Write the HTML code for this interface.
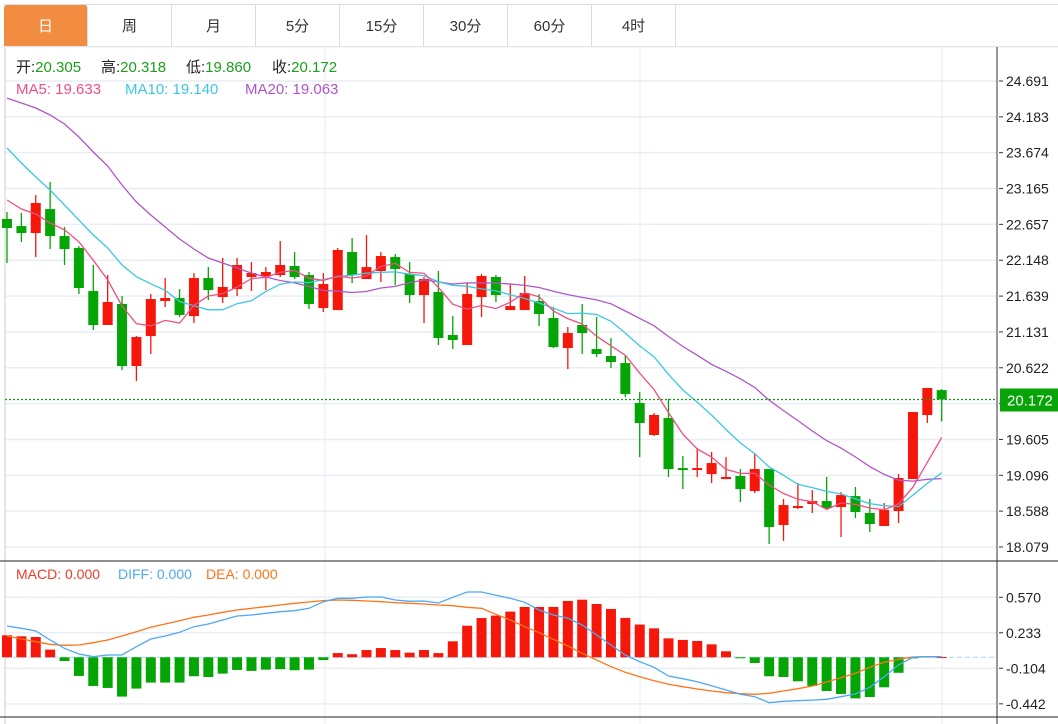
<!DOCTYPE html>
<html><head><meta charset="utf-8">
<style>
body{margin:0;width:1058px;height:724px;overflow:hidden;background:#fff;font-family:"Liberation Sans","Noto Sans CJK SC",sans-serif;}
#tabs{position:absolute;left:4px;top:4px;height:41px;width:1054px;border-top:1px solid #ddd;border-bottom:1px solid #ddd;display:flex;}
.tab{width:83px;height:41px;border-right:1px solid #ddd;display:flex;align-items:center;justify-content:center;font-size:15px;color:#333;}
.tab.on{background:#f28c40;color:#fff;border-radius:3px 3px 0 0;}
svg{position:absolute;left:0;top:0;}
</style></head><body>
<div id="tabs">
<div class="tab on">日</div>
<div class="tab">周</div>
<div class="tab">月</div>
<div class="tab">5分</div>
<div class="tab">15分</div>
<div class="tab">30分</div>
<div class="tab">60分</div>
<div class="tab">4时</div>
</div>
<svg id="chart" width="1058" height="724"></svg>
<script>
const opens=[22.733,22.633,22.534,22.874,22.491,22.321,21.711,21.229,21.527,20.647,21.072,21.569,21.612,21.356,21.895,21.626,21.739,21.910,21.924,21.938,22.066,21.938,21.470,21.441,22.264,21.881,21.995,22.193,21.952,21.654,21.697,21.087,20.945,21.626,21.910,21.441,21.441,21.569,21.328,20.902,21.229,20.888,20.789,20.689,20.122,19.668,19.909,19.199,19.171,19.114,19.043,19.086,18.873,19.185,18.391,18.632,18.689,18.731,18.646,18.802,18.561,18.377,18.589,19.043,19.951,20.305];
const highs=[22.832,22.818,23.073,23.258,22.619,22.349,22.080,21.938,21.640,21.072,21.668,21.895,21.739,21.966,22.051,22.179,22.179,22.122,22.051,22.420,22.264,21.981,21.966,22.321,22.463,22.506,22.264,22.236,22.122,21.910,21.995,21.356,21.824,21.952,21.938,21.810,21.924,21.668,21.484,21.200,21.527,21.342,21.044,20.803,20.278,19.980,20.179,19.370,19.483,19.427,19.355,19.185,19.398,19.185,18.760,18.987,18.887,19.072,18.859,18.930,18.760,18.703,19.114,19.994,20.335,20.318];
const lows=[22.108,22.406,22.193,22.307,22.080,21.668,21.158,21.229,20.590,20.434,20.817,21.484,21.342,21.257,21.583,21.541,21.640,21.711,21.725,21.910,21.881,21.456,21.413,21.441,21.824,21.881,21.839,21.796,21.541,21.257,20.945,20.888,20.945,21.342,21.555,21.441,21.441,21.214,20.902,20.604,20.817,20.774,20.619,20.207,19.355,19.653,19.072,18.901,19.072,18.987,19.043,18.717,18.845,18.121,18.164,18.618,18.561,18.604,18.220,18.490,18.292,18.377,18.419,19.043,19.838,19.860];
const closes=[22.605,22.534,22.960,22.491,22.307,21.754,21.229,21.555,20.647,21.058,21.597,21.612,21.371,21.895,21.725,21.768,22.080,21.966,21.981,22.080,21.910,21.527,21.810,22.293,21.938,22.051,22.208,22.023,21.654,21.881,21.044,21.016,21.668,21.924,21.654,21.498,21.682,21.385,20.916,21.115,21.115,20.817,20.704,20.249,19.838,19.952,19.185,19.171,19.199,19.270,19.072,18.901,19.185,18.362,18.674,18.660,18.731,18.632,18.816,18.575,18.405,18.604,19.058,19.994,20.335,20.172];
const ma5Head=[23.002,22.875,22.804,22.676];
const ma10Head=[23.740,23.527,23.329,23.144,22.931,22.718,22.506,22.321,22.080];
const ma20Head=[24.449,24.379,24.308,24.208,24.081,23.896,23.683,23.485,23.215,22.974,22.789,22.619,22.449,22.307,22.179,22.108,22.037,21.966,21.910];
const macdHist=[0.209,0.199,0.193,0.073,-0.035,-0.177,-0.272,-0.291,-0.373,-0.297,-0.240,-0.240,-0.240,-0.180,-0.187,-0.155,-0.120,-0.129,-0.117,-0.113,-0.123,-0.117,-0.026,0.040,0.029,0.069,0.088,0.069,0.044,0.069,0.040,0.152,0.300,0.373,0.396,0.434,0.478,0.478,0.478,0.535,0.547,0.506,0.459,0.374,0.311,0.275,0.180,0.165,0.155,0.123,0.057,-0.003,-0.054,-0.180,-0.187,-0.228,-0.272,-0.320,-0.349,-0.390,-0.377,-0.285,-0.147,-0.010,0.010,0.002];
const diffVals=[0.297,0.275,0.250,0.164,0.085,0.031,0.006,0.022,0.022,0.101,0.174,0.202,0.237,0.291,0.316,0.354,0.392,0.402,0.418,0.433,0.443,0.465,0.528,0.560,0.560,0.573,0.573,0.544,0.532,0.535,0.516,0.570,0.620,0.620,0.589,0.560,0.522,0.449,0.402,0.370,0.307,0.212,0.117,0.022,-0.042,-0.095,-0.178,-0.203,-0.232,-0.270,-0.311,-0.351,-0.374,-0.431,-0.418,-0.412,-0.406,-0.399,-0.374,-0.349,-0.285,-0.184,-0.073,0.000,0.006,0.006];
const deaVals=[0.202,0.174,0.148,0.123,0.114,0.117,0.139,0.164,0.202,0.243,0.285,0.316,0.348,0.380,0.402,0.427,0.449,0.465,0.481,0.497,0.513,0.525,0.538,0.544,0.541,0.535,0.528,0.519,0.513,0.506,0.497,0.490,0.475,0.465,0.408,0.354,0.291,0.234,0.171,0.107,0.038,-0.026,-0.089,-0.142,-0.184,-0.222,-0.256,-0.279,-0.301,-0.320,-0.336,-0.346,-0.351,-0.342,-0.320,-0.298,-0.273,-0.235,-0.194,-0.152,-0.095,-0.047,-0.019,0.003,0.006,0.003];
const priceTicks=[24.691,24.183,23.674,23.165,22.657,22.148,21.639,21.131,20.622,20.113,19.605,19.096,18.588,18.079];
const macdTicks=[0.570,0.233,-0.104,-0.442];
const lastPrice=20.172;

const svg=document.getElementById('chart');
const NS='http://www.w3.org/2000/svg';
function mk(tag,attrs,parent){const e=document.createElementNS(NS,tag);for(const k in attrs)e.setAttribute(k,attrs[k]);(parent||svg).appendChild(e);return e;}
const RED='#f4170a',GREEN='#04a504';
const xOf=i=>7+i*14.38;
const yP=p=>81+(24.691-p)/(24.691-18.079)*466;
const yM=v=>657.3-v*105.3;
function ma(n,head){const out=[];for(let i=0;i<closes.length;i++){if(i<n-1){out.push(head[i]);}else{let s=0;for(let j=i-n+1;j<=i;j++)s+=closes[j];out.push(s/n);}}return out;}

// grid
const grid=mk('g',{});


priceTicks.forEach(t=>{mk('line',{x1:5,x2:997,y1:yP(t),y2:yP(t),stroke:'#e8eef3','stroke-width':1.5},grid);});
macdTicks.forEach(t=>{mk('line',{x1:5,x2:997,y1:yM(t),y2:yM(t),stroke:'#e8eef3','stroke-width':1.5},grid);});
[325,640,942].forEach(x=>{mk('line',{x1:x,x2:x,y1:47,y2:724,stroke:'#e3ecf4','stroke-width':1},grid);});
mk('line',{x1:5,x2:5,y1:47,y2:724,stroke:'#ccc','stroke-width':1},grid);
mk('line',{x1:0,x2:1058,y1:47,y2:47,stroke:'#e8eef3','stroke-width':1},grid);
mk('line',{x1:0,x2:1058,y1:561,y2:561,stroke:'#222','stroke-width':1},grid);
mk('line',{x1:0,x2:1058,y1:717,y2:717,stroke:'#222','stroke-width':1},grid);
mk('line',{x1:997,x2:997,y1:47,y2:724,stroke:'#333','stroke-width':1},grid);

// price axis
const pax=mk('g',{});


priceTicks.forEach(t=>{
  mk('line',{x1:999,x2:1003,y1:yP(t),y2:yP(t),stroke:'#333'},pax);
  const tx=mk('text',{x:1006,y:yP(t)+5,'font-size':14,fill:'#222'},pax);tx.textContent=t.toFixed(3);
});
const max=mk('g',{});


macdTicks.forEach(t=>{
  mk('line',{x1:999,x2:1003,y1:yM(t),y2:yM(t),stroke:'#333'},max);
  const tx=mk('text',{x:1006,y:yM(t)+5,'font-size':14,fill:'#222'},max);tx.textContent=t.toFixed(3);
});

// candles
const cg=mk('g',{});


for(let i=0;i<closes.length;i++){
  const up=closes[i]>=opens[i],c=up?RED:GREEN,x=xOf(i);
  const g=mk('g',{},cg);
  
  
  mk('line',{x1:x,x2:x,y1:yP(highs[i]),y2:yP(lows[i]),stroke:c,'stroke-width':1.3},g);
  const top=yP(Math.max(opens[i],closes[i])),bot=yP(Math.min(opens[i],closes[i]));
  mk('rect',{x:x-5,y:top,width:10,height:Math.max(1.5,bot-top),fill:c},g);
}
// MA lines
function line(vals,yf,color,name){
  const d=vals.map((v,i)=>(i?'L':'M')+xOf(i).toFixed(1)+' '+yf(v).toFixed(1)).join(' ');
  const p=mk('path',{d:d,fill:'none',stroke:color,'stroke-width':1.3});
  
  
}
line(ma(20,ma20Head),yP,'#b055c8','ma20-line');
line(ma(10,ma10Head),yP,'#3cc8e0','ma10-line');
line(ma(5,ma5Head),yP,'#ef4f85','ma5-line');

// last price line
const lp=mk('line',{x1:5,x2:997,y1:yP(lastPrice),y2:yP(lastPrice),stroke:'#1a9a1a','stroke-dasharray':'2,2','stroke-width':1.2});


const lb=mk('rect',{x:1000,y:yP(lastPrice)-11,width:58,height:23,fill:'#06a406'});


const lt=mk('text',{x:1007,y:yP(lastPrice)+6,'font-size':15,fill:'#fff'});lt.textContent=lastPrice.toFixed(3);

// MACD
mk('line',{x1:5,x2:995,y1:yM(0),y2:yM(0),stroke:'#a8d8ee','stroke-dasharray':'5,3'});
const hg=mk('g',{});


macdHist.forEach((v,i)=>{
  const y0=yM(0),y1=yM(v);
  const r=mk('rect',{x:xOf(i)-5,y:Math.min(y0,y1),width:10,height:Math.max(1,Math.abs(y1-y0)),fill:v>=0?RED:GREEN},hg);
  
  
});
line(deaVals,yM,'#ff7418','dea-line');
line(diffVals,yM,'#4ea8f5','diff-line');

// legends
function txt(x,y,s,color,name,size){const t=mk('text',{x:x,y:y,'font-size':size||15,fill:color});t.textContent=s;if(name){}return t;}
const ohlc=[['开:','20.305',16],['高:','20.318',101],['低:','19.860',186],['收:','20.172',272]];
ohlc.forEach((o,k)=>{const t=txt(o[2],72,'', '#222','ohlc-'+k);t.innerHTML='<tspan fill="#222">'+o[0]+'</tspan><tspan fill="#1a9f1a">'+o[1]+'</tspan>';});
txt(16,94,'MA5: 19.633','#ef4f85','ma5-legend');
txt(125,94,'MA10: 19.140','#3cc8e0','ma10-legend');
txt(245,94,'MA20: 19.063','#b055c8','ma20-legend');
txt(16,579,'MACD: 0.000','#f03a2a','macd-legend',14);
txt(118,579,'DIFF: 0.000','#4ea8f5','diff-legend',14);
txt(206,579,'DEA: 0.000','#ff7418','dea-legend',14);
</script>
</body></html>
